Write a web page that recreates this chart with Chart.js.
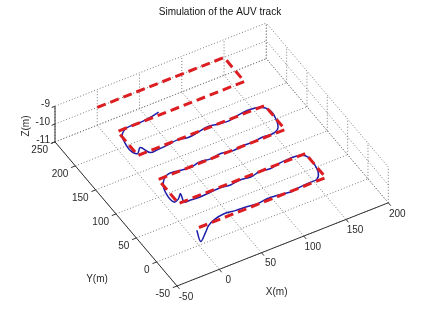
<!DOCTYPE html>
<html>
<head>
<meta charset="utf-8">
<title>Simulation of the AUV track</title>
<script src="https://cdn.jsdelivr.net/npm/chart.js@4.4.1/dist/chart.umd.min.js"></script>
<style>
  html, body { margin: 0; padding: 0; background: #fff; }
  #wrap { width: 427px; height: 320px; }
</style>
</head>
<body>
<div id="wrap"><canvas id="c" width="427" height="320"></canvas></div>
<script>
// ==============================
// data
// ==============================
const xTicks = [-50, 0, 50, 100, 150, 200];
const yTicks = [-50, 0, 50, 100, 150, 200, 250];
const zTicks = [-11, -10, -9];

// planned lawnmower path (red dashed), depth -10 m
const planX = [0, 150, 150, 0, 0, 150, 150, 0, 0, 150, 150, 0];
const planY = [250, 250, 200, 200, 150, 150, 100, 100, 50, 50, 0, 0];
const planZ = -10;

// simulated AUV track (blue)
const trackX = [
  -4, -9, 2, 10, 20, 32, 45, 58, 70, 82, 95, 108, 120, 132, 141, 147, 150, 150, 145,
  132, 120, 108, 96, 84, 72, 60, 48, 36, 24, 12, 6, 9, 3, -3, -4, 1, 12,
  25, 38, 50, 62, 75, 88, 100, 112, 124, 136, 145, 150, 151, 145, 130,
  118, 106, 94, 82, 70, 58, 46, 34, 22, 13, 8, 1, -3, -2, 1, 11, 27, 40, 51
];
const trackY = [
  -3, -23, -12, -3, 3, 6, 4, 3, 1, 3, 2, -1, 1, 2, 3, 12, 28, 42, 50,
  52, 51, 48, 50, 47, 49, 47, 49, 48, 47, 48, 49, 64, 57, 55, 70, 90, 102,
  101, 99, 102, 100, 102, 99, 101, 100, 102, 101, 107, 123, 139, 150, 153,
  151, 148, 150, 152, 149, 147, 150, 148, 147, 147, 161, 153, 162, 178, 191, 200, 200, 202, 205
];
const trackZ = -10;

// ==============================
// 3d view (matlab style)
// ==============================
const xLim = [-50, 200];
const yLim = [-50, 250];
const zLim = [-11, -9];
const view = { az: -30, el: 43 };
const boxAspect = [1, 1, 0.2];

function project(x, y, z) {
  const a = (view.az * Math.PI) / 180;
  const e = (view.el * Math.PI) / 180;
  const xn = ((x - xLim[0]) / (xLim[1] - xLim[0])) * boxAspect[0];
  const yn = ((y - yLim[0]) / (yLim[1] - yLim[0])) * boxAspect[1];
  const zn = ((z - zLim[0]) / (zLim[1] - zLim[0])) * boxAspect[2];
  return {
    x: xn * Math.cos(a) + yn * Math.sin(a),
    y: -xn * Math.sin(a) * Math.sin(e) + yn * Math.cos(a) * Math.sin(e) + zn * Math.cos(e),
  };
}

const planData = planX.map((x, i) => project(x, planY[i], planZ));
const trackData = trackX.map((x, i) => project(x, trackY[i], trackZ));

// projected window
const pxPerUnit = 244;
const origin = [177, 286];
const W = 427, H = 320;

function toPixel(chart, x, y, z) {
  const p = project(x, y, z);
  return [chart.scales.x.getPixelForValue(p.x), chart.scales.y.getPixelForValue(p.y)];
}

function seg(ctx, a, b) {
  ctx.beginPath();
  ctx.moveTo(a[0], a[1]);
  ctx.lineTo(b[0], b[1]);
  ctx.stroke();
}

// ==============================
// box, grid, axes plugin
// ==============================
const axes3dPlugin = {
  id: "axes3d",

  beforeDatasetsDraw(chart) {
    const ctx = chart.ctx;
    const P = (x, y, z) => toPixel(chart, x, y, z);
    ctx.save();

    // -------------------------
    // dotted grid
    // -------------------------
    ctx.strokeStyle = "#7a7a7a";
    ctx.lineWidth = 1;
    ctx.setLineDash([1, 2]);

    // floor
    xTicks.forEach((x) => seg(ctx, P(x, yLim[0], zLim[0]), P(x, yLim[1], zLim[0])));
    yTicks.forEach((y) => seg(ctx, P(xLim[0], y, zLim[0]), P(xLim[1], y, zLim[0])));
    // back wall y = 250
    xTicks.forEach((x) => seg(ctx, P(x, yLim[1], zLim[0]), P(x, yLim[1], zLim[1])));
    zTicks.forEach((z) => seg(ctx, P(xLim[0], yLim[1], z), P(xLim[1], yLim[1], z)));
    // side wall x = 200
    yTicks.forEach((y) => seg(ctx, P(xLim[1], y, zLim[0]), P(xLim[1], y, zLim[1])));
    zTicks.forEach((z) => seg(ctx, P(xLim[1], yLim[0], z), P(xLim[1], yLim[1], z)));

    ctx.setLineDash([]);

    // -------------------------
    // axis lines + ticks
    // -------------------------
    ctx.strokeStyle = "#333";
    seg(ctx, P(xLim[0], yLim[0], zLim[0]), P(xLim[1], yLim[0], zLim[0]));
    seg(ctx, P(xLim[0], yLim[0], zLim[0]), P(xLim[0], yLim[1], zLim[0]));
    seg(ctx, P(xLim[0], yLim[1], zLim[0]), P(xLim[0], yLim[1], zLim[1]));

    xTicks.forEach((x) => seg(ctx, P(x, yLim[0], zLim[0]), P(x, yLim[0] - 6, zLim[0])));
    yTicks.forEach((y) => seg(ctx, P(xLim[0], y, zLim[0]), P(xLim[0] - 5, y, zLim[0])));
    zTicks.forEach((z) => seg(ctx, P(xLim[0], yLim[1], z), P(xLim[0] - 4, yLim[1], z)));

    // -------------------------
    // tick labels
    // -------------------------
    ctx.fillStyle = "#2a2a2a";
    ctx.font = "10px 'Liberation Sans', Arial, sans-serif";
    ctx.textBaseline = "middle";

    ctx.textAlign = "center";
    xTicks.forEach((x) => {
      const p = P(x, yLim[0], zLim[0]);
      ctx.fillText(String(x), p[0] + 9, p[1] + 11);
    });

    ctx.textAlign = "right";
    yTicks.forEach((y) => {
      const p = P(xLim[0], y, zLim[0]);
      ctx.fillText(String(y), p[0] - 7, p[1] + 8);
    });
    zTicks.forEach((z) => {
      const p = P(xLim[0], yLim[1], z);
      ctx.fillText(String(z), p[0] - 5, p[1] - 2);
    });

    // -------------------------
    // axis titles
    // -------------------------
    ctx.textAlign = "center";
    const xm = P((xLim[0] + xLim[1]) / 2, yLim[0], zLim[0]);
    ctx.fillText("X(m)", xm[0] - 6, xm[1] + 48);
    const ym = P(xLim[0], (yLim[0] + yLim[1]) / 2, zLim[0]);
    ctx.fillText("Y(m)", ym[0] - 19, ym[1] + 65);

    const zm = P(xLim[0], yLim[1], (zLim[0] + zLim[1]) / 2);
    ctx.save();
    ctx.translate(zm[0] - 29, zm[1] + 2);
    ctx.rotate(-Math.PI / 2);
    ctx.fillText("Z(m)", 0, 0);
    ctx.restore();

    // -------------------------
    // title
    // -------------------------
    ctx.fillStyle = "#111";
    ctx.fillText("Simulation of the AUV track", 220, 12);

    ctx.restore();
  },
};

// ==============================
// create
// ==============================
new Chart(document.getElementById("c"), {
  type: "scatter",
  data: {
    datasets: [
      {
        label: "planned path",
        data: planData,
        showLine: true,
        borderColor: "rgb(220,30,34)",
        borderWidth: 3,
        borderDash: [9, 5],
        pointRadius: 0,
        tension: 0,
        fill: false,
      },
      {
        label: "AUV track",
        data: trackData,
        showLine: true,
        borderColor: "rgb(30,30,170)",
        borderWidth: 1.5,
        pointRadius: 0,
        tension: 0.35,
        fill: false,
      },
    ],
  },
  options: {
    responsive: false,
    animation: false,
    devicePixelRatio: 1,
    layout: { padding: 0 },
    plugins: {
      legend: { display: false },
      tooltip: { enabled: false },
      title: { display: false },
    },
    scales: {
      x: {
        type: "linear",
        display: false,
        min: -origin[0] / pxPerUnit,
        max: (W - origin[0]) / pxPerUnit,
      },
      y: {
        type: "linear",
        display: false,
        min: -(H - origin[1]) / pxPerUnit,
        max: origin[1] / pxPerUnit,
      },
    },
  },
  plugins: [axes3dPlugin],
});
</script>
</body>
</html>
